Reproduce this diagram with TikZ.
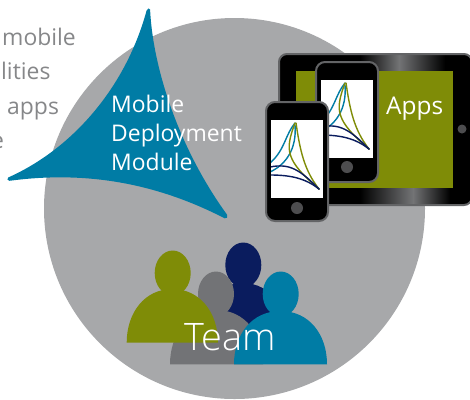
\documentclass[tikz,border=0pt]{standalone}
\usepackage{fontspec}
\setmainfont{Open Sans}
\newfontfamily\lightface{Open Sans Light}
\definecolor{disc}{HTML}{A7A8AA}
\definecolor{teal}{HTML}{007CA5}
\definecolor{olive}{HTML}{7F8C07}
\definecolor{navy}{HTML}{0A1C5E}
\definecolor{midgrey}{HTML}{727376}
\definecolor{bodytext}{HTML}{868789}
\definecolor{rim}{HTML}{636466}
\definecolor{knob}{HTML}{4D4D4F}
\tikzset{
  x=1bp,y=-1bp,
  whitetext/.style={text=white,inner sep=0pt,anchor=base west,font=\fontsize{23}{23}\selectfont},
  greytext/.style={text=bodytext,inner sep=0pt,anchor=base west,font=\fontsize{23}{23}\selectfont},
  phonebody/.style={fill=black,draw=rim,line width=2bp,rounded corners=9bp},
  logoline/.style={line width=1.4bp,line cap=round},
}
\newcommand{\logomark}[2]{%
\begin{scope}[shift={(#1,#2)}]
  \draw[logoline,teal] (295,123) .. controls (285,135) and (285,150) .. (270,163);
  \draw[logoline,teal] (295,125) .. controls (297,150) and (285,165) .. (270,172);
  \draw[logoline,olive] (295,123) .. controls (285,150) and (285,160) .. (319,189);
  \draw[logoline,olive] (296,123) .. controls (300,150) and (304,170) .. (319,189);
  \draw[logoline,navy] (270,167) .. controls (290,163) and (300,170) .. (319,189);
  \draw[logoline,navy] (270,175) .. controls (290,175) and (305,178) .. (319,189);
\end{scope}}
\newcommand{\person}[7]{% head x,y; body left,right; top,base; colour
  \fill[#7] (#1,#2) ellipse (18 and 22.5);
  \fill[#7] (#3,#6) .. controls (#3,{#6-30}) and ({#3+18},#5) .. ({(#3+#4)/2},#5)
     .. controls ({#4-18},#5) and (#4,{#6-30}) .. (#4,#6) -- cycle;
}
\begin{document}
\begin{tikzpicture}
\useasboundingbox (0,0) rectangle (470,399);
\clip (0,0) rectangle (470,399);
\fill[disc] (234.5,208.5) circle (190.5);
\node[greytext] (t1) at (2,45) {mobile};
\node[greytext] (t2) at (1,79) {lities};
\node[greytext] (t3) at (7,114) {apps};
\node[greytext] (t4) at (-9,148) {e};
\fill[teal,rounded corners=1.5bp] (150,8) .. controls (153,70) and (180,150) .. (228,216)
  -- (226,219) .. controls (160,185) and (90,170) .. (8,181) -- (7,178)
  .. controls (70,150) and (125,90) .. (147,9) -- cycle;
\node[whitetext] (m1) at (111,112) {Mobile};
\node[whitetext] (m2) at (111,141) {Deployment};
\node[whitetext] (m3) at (111,170) {Module};
% tablet
\fill[black,rounded corners=8bp] (279,54) rectangle (472,205);
\begin{scope}
  \clip[rounded corners=8bp] (279,54) rectangle (472,205);
  \shade[left color=black,right color=rim!90] (360,54) rectangle (399,72);
  \shade[left color=rim!90,right color=black] (399,54) rectangle (445,72);
  \shade[left color=black,right color=rim!90] (360,187) rectangle (413,205);
  \shade[left color=rim!90,right color=black] (413,187) rectangle (450,205);
\end{scope}
\draw[rim,line width=2bp,rounded corners=8bp] (279,54) rectangle (472,205);
\fill[olive] (296,71) rectangle (453,188);
\fill[knob] (462,129) circle (4.5);
\node[whitetext,font=\fontsize{24.5}{24.5}\selectfont] (apps) at (386,114) {Apps};
% back phone
\draw[phonebody] (316,62) rectangle (378,182);
\fill[white] (321,80) rectangle (373,158);
\begin{scope}\clip (321,80) rectangle (373,158);\logomark{50}{-40}\end{scope}
\fill[knob] (347,167) circle (6);
% front phone
\draw[phonebody] (266,102) rectangle (328,221);
\fill[white] (271,120) rectangle (323,198);
\begin{scope}\clip (271,120) rectangle (323,198);\logomark{0}{0}\end{scope}
\fill[knob] (297,208) circle (6);
% people
\person{243.3}{265}{197}{289}{283}{340}{navy}
\person{216}{294}{170}{263}{310}{364.3}{midgrey}
\person{172.7}{273}{126.7}{218}{289}{342.7}{olive}
\person{280.7}{294}{234}{327}{311}{364.3}{teal}
\node[whitetext,font=\lightface\fontsize{38}{38}\selectfont] (team) at (184,350) {Team};
\end{tikzpicture}
\end{document}
